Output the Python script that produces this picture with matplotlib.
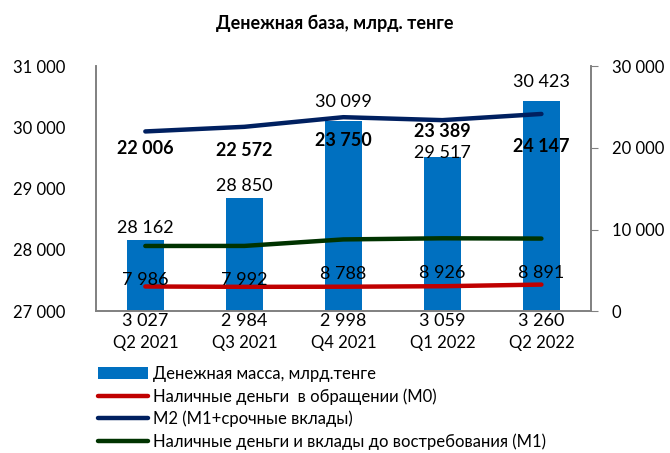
import numpy as np
import matplotlib.pyplot as plt
from matplotlib.ticker import FuncFormatter

plt.rcParams['font.family'] = ['Lato', 'DejaVu Sans']

quarters = ['Q2 2021', 'Q3 2021', 'Q4 2021', 'Q1 2022', 'Q2 2022']
money_mass = [28162, 28850, 30099, 29517, 30423]   # Денежная масса
m0 = [3027, 2984, 2998, 3059, 3260]                 # Наличные деньги в обращении
m2 = [22006, 22572, 23750, 23389, 24147]            # M2
m1 = [7986, 7992, 8788, 8926, 8891]                 # M1

def fmt(v):
    return f'{v:,.0f}'.replace(',', ' ')

x = np.arange(len(quarters))
fig = plt.figure(figsize=(6.7, 4.53), dpi=100)
ax = fig.add_axes([0.143, 0.313, 0.739, 0.541])
ax2 = ax.twinx()

bars = ax.bar(x, money_mass, width=0.38, color='#0070C0', zorder=2,
              label='Денежная масса, млрд.тенге')
ax.set_ylim(27000, 31000)
ax.set_yticks([27000, 28000, 29000, 30000, 31000])
ax.yaxis.set_major_formatter(FuncFormatter(lambda v, p: fmt(v)))
ax.set_xlim(-0.5, len(quarters) - 0.5)
ax.set_xticks(x)
ax.set_xticklabels(quarters)
ax.tick_params(axis='y', length=0, labelsize=12, pad=22)
ax.tick_params(axis='x', length=0, labelsize=12, pad=17)

# подписи столбцов (сдвиг как в исходной диаграмме)
bar_off = [3, 3, 8, -3, 8]
for v, xi, d in zip(money_mass, x, bar_off):
    ax.annotate(fmt(v), (xi, v), xytext=(0, d), textcoords='offset points',
                ha='center', va='bottom', fontsize=13)

l0, = ax2.plot(x, m0, color='#C00000', lw=3.2, solid_capstyle='round',
               label='Наличные деньги  в обращении (М0)')
l2, = ax2.plot(x, m2, color='#002060', lw=3.2, solid_capstyle='round',
               label='М2 (М1+срочные вклады)')
l1, = ax2.plot(x, m1, color='#003300', lw=3.2, solid_capstyle='round',
               label='Наличные деньги и вклады до востребования (М1)')
ax2.set_ylim(0, 30000)
ax2.set_yticks([0, 10000, 20000, 30000])
ax2.yaxis.set_major_formatter(FuncFormatter(lambda v, p: fmt(v)))
ax2.tick_params(axis='y', length=5, color='#808080', labelsize=12, pad=10)

m2_off = [-6, -11, -11, -2, -17]
for xi, v, d in zip(x, m2, m2_off):
    ax2.annotate(fmt(v), (xi, v), xytext=(0, d), textcoords='offset points',
                 ha='center', va='top', fontsize=13, fontweight='bold')
for xi, v in zip(x, m1):
    ax2.annotate(fmt(v), (xi, v), xytext=(0, -19), textcoords='offset points',
                 ha='center', va='top', fontsize=13)
for xi, v in zip(x, m0):
    ax2.annotate(fmt(v), (xi, 0), xytext=(0, -1), textcoords='offset points',
                 ha='center', va='top', fontsize=13)

for a in (ax, ax2):
    a.spines['top'].set_visible(False)
    for s in ('left', 'right', 'bottom'):
        a.spines[s].set_color('#808080')
        a.spines[s].set_linewidth(1.2)

fig.suptitle('Денежная база, млрд. тенге', x=0.5, y=0.968, fontsize=13,
             fontweight='bold')

fig.legend([bars, l0, l2, l1], [h.get_label() for h in (bars, l0, l2, l1)],
           loc='upper left', bbox_to_anchor=(0.147, 0.192), frameon=False,
           fontsize=12, handlelength=3.0, handletextpad=0.3,
           labelspacing=0.36, borderaxespad=0, borderpad=0)

fig.savefig('out.png', dpi=100)
